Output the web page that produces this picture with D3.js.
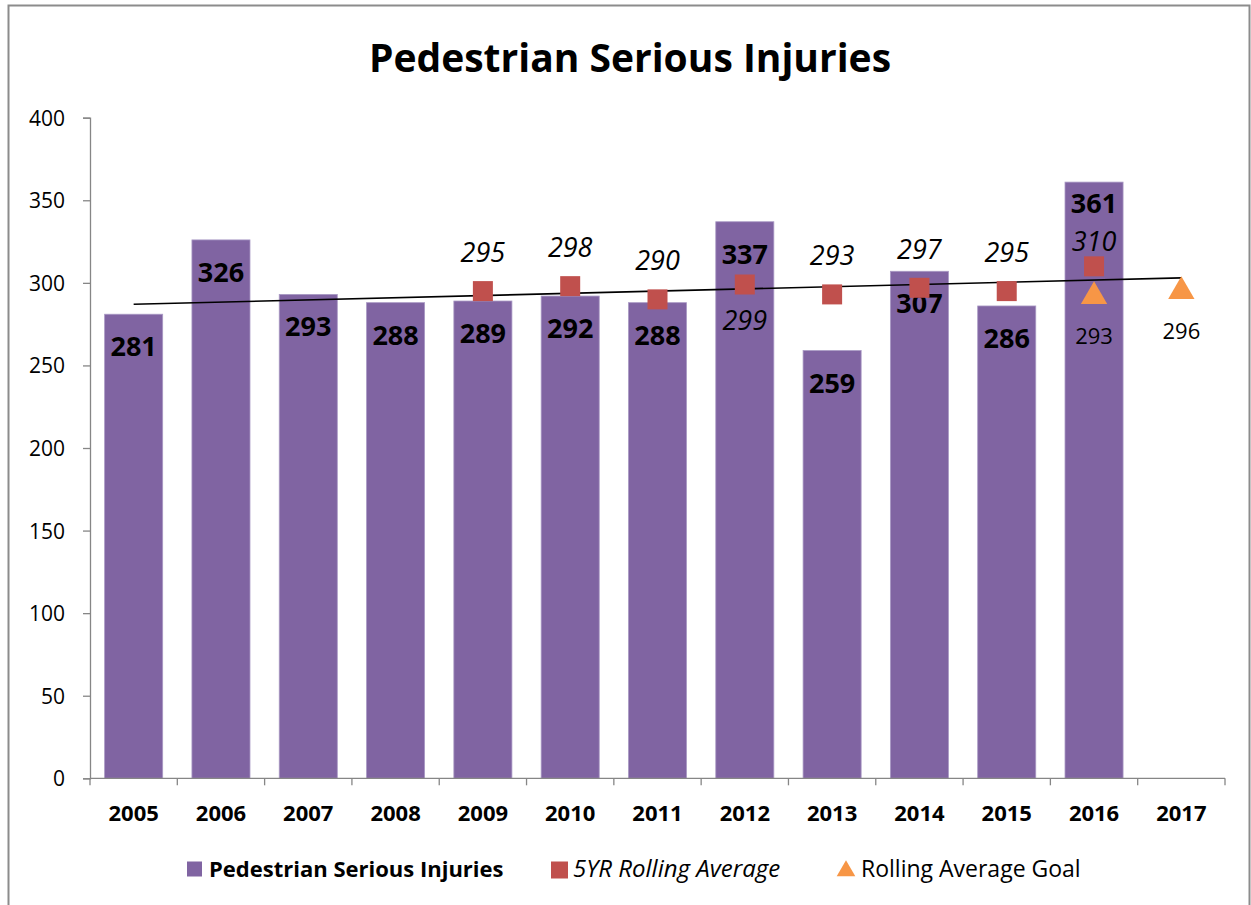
<!DOCTYPE html>
<html>
<head>
<meta charset="utf-8">
<script src="https://cdn.jsdelivr.net/npm/d3@7"></script>
<style>
  html, body { margin: 0; padding: 0; background: #fff; }
  svg { display: block; font-family: "Open Sans", sans-serif; }
</style>
</head>
<body>
<svg id="chart" width="1251" height="905"></svg>
<script>
// ---- data ----
const years = ["2005","2006","2007","2008","2009","2010","2011","2012","2013","2014","2015","2016","2017"];
const injuryYears = ["2005","2006","2007","2008","2009","2010","2011","2012","2013","2014","2015","2016"];
const injuries = [281, 326, 293, 288, 289, 292, 288, 337, 259, 307, 286, 361];
const rollingYears = ["2009","2010","2011","2012","2013","2014","2015","2016"];
const rollingAvg = [295, 298, 290, 299, 293, 297, 295, 310];
const goalYears = ["2016","2017"];
const goalValues = [293, 296];
const trendYears = ["2005","2017"];
const trendValues = [287, 303];
const yTicks = [0, 50, 100, 150, 200, 250, 300, 350, 400];
const title = "Pedestrian Serious Injuries";
const seriesNames = ["Pedestrian Serious Injuries", "5YR Rolling Average", "Rolling Average Goal"];

// ---- styling ----
const barColor = "#8064A2", avgColor = "#C0504D", goalColor = "#F79646", axisColor = "#868686";

const svg = d3.select("#chart");

// outer border
svg.append("rect").attr("x", 8.5).attr("y", 5.5).attr("width", 1241).attr("height", 940)
  .attr("fill", "none").attr("stroke", "#8c8c8c").attr("stroke-width", 2);

const x = d3.scaleBand().domain(years).range([90, 1225]).padding(0);
const y = d3.scaleLinear().domain([0, 400]).range([778.3, 117.7]);
const cx = d => x(d) + x.bandwidth() / 2;
const barW = x.bandwidth() * 0.665;

// title
svg.append("text").attr("x", 630).attr("y", 72).attr("text-anchor", "middle")
  .attr("font-size", 39).attr("font-weight", 700).attr("fill", "#000").text(title);

// bars
const bars = injuryYears.map((yr, i) => ({ yr, v: injuries[i] }));
svg.append("g").selectAll("rect").data(bars).join("rect")
  .attr("x", d => cx(d.yr) - barW / 2).attr("width", barW)
  .attr("y", d => y(d.v)).attr("height", d => y(0) - y(d.v))
  .attr("fill", barColor).attr("stroke", "#a999c4").attr("stroke-width", 0.8);

// y axis
const yAxis = d3.axisLeft(y).tickValues(yTicks).tickSize(7).tickPadding(18);
const gy = svg.append("g").attr("transform", "translate(90,0)").call(yAxis);
gy.select(".domain").attr("stroke", axisColor).attr("stroke-width", 1.3);
gy.selectAll(".tick line").attr("stroke", axisColor).attr("stroke-width", 1.3);
gy.selectAll(".tick text").attr("font-size", 21).attr("fill", "#000")
  .attr("font-family", "Open Sans, sans-serif").attr("dy", "0.36em");

// x axis
const gx = svg.append("g").attr("transform", `translate(0,${y(0)})`)
  .call(d3.axisBottom(x).tickSize(0).tickPadding(0));
gx.select(".domain").attr("stroke", axisColor).attr("stroke-width", 1.3).attr("d", `M90,0H1225`);
gx.selectAll(".tick text").attr("font-size", 22).attr("font-weight", 700).attr("fill", "#000")
  .attr("font-family", "Open Sans, sans-serif").attr("y", 43).attr("dy", 0);
// boundary tick marks
const bounds = years.map(yr => x(yr)).concat([x(years[years.length - 1]) + x.bandwidth()]);
gx.append("g").selectAll("line").data(bounds).join("line")
  .attr("x1", d => d).attr("x2", d => d).attr("y1", 0).attr("y2", 7)
  .attr("stroke", axisColor).attr("stroke-width", 1.3);

// bar labels
svg.append("g").selectAll("text").data(bars).join("text")
  .attr("x", d => cx(d.yr)).attr("y", d => y(d.v) + (d.yr === "2016" ? 31 : 42))
  .attr("text-anchor", "middle").attr("font-size", 27).attr("font-weight", 700)
  .attr("fill", "#000").text(d => d.v);

// trendline
const trend = trendYears.map((yr, i) => ({ yr, v: trendValues[i] }));
svg.append("path").datum(trend)
  .attr("d", d3.line().x(d => cx(d.yr)).y(d => y(d.v)))
  .attr("stroke", "#000").attr("stroke-width", 1.6).attr("fill", "none");

// rolling average markers
const avg = rollingYears.map((yr, i) => ({ yr, v: rollingAvg[i] }));
svg.append("g").selectAll("rect").data(avg).join("rect")
  .attr("x", d => cx(d.yr) - 10).attr("y", d => y(d.v) - 10)
  .attr("width", 20).attr("height", 20).attr("fill", avgColor);
svg.append("g").selectAll("text").data(avg).join("text")
  .attr("x", d => cx(d.yr))
  .attr("y", d => d.yr === "2012" ? y(d.v) + 45 : (d.yr === "2016" ? y(d.v) - 15 : y(d.v) - 29))
  .attr("text-anchor", "middle").attr("font-size", 27).attr("font-style", "italic")
  .attr("fill", "#000").text(d => d.v);

// goal markers
const goals = goalYears.map((yr, i) => ({ yr, v: goalValues[i] }));
const tri = d3.symbol().type(d3.symbolTriangle).size(300);
svg.append("g").selectAll("path").data(goals).join("path")
  .attr("d", tri).attr("transform", d => `translate(${cx(d.yr)},${y(d.v) + 2})`)
  .attr("fill", goalColor);
svg.append("g").selectAll("text").data(goals).join("text")
  .attr("x", d => cx(d.yr)).attr("y", d => y(d.v) + 50)
  .attr("text-anchor", "middle").attr("font-size", 22).attr("fill", "#000").text(d => d.v);

// legend
const lg = svg.append("g");
lg.append("rect").attr("x", 187).attr("y", 861.5).attr("width", 15).attr("height", 15).attr("fill", barColor);
lg.append("text").attr("x", 209).attr("y", 877).attr("font-size", 22).attr("font-weight", 700).text(seriesNames[0]);
lg.append("rect").attr("x", 551).attr("y", 861.5).attr("width", 17).attr("height", 17).attr("fill", avgColor);
lg.append("text").attr("x", 573).attr("y", 877).attr("font-size", 24).attr("font-style", "italic").text(seriesNames[1]);
lg.append("path").attr("d", d3.symbol().type(d3.symbolTriangle).size(150))
  .attr("transform", "translate(846,871)").attr("fill", goalColor);
lg.append("text").attr("x", 861).attr("y", 877).attr("font-size", 23).text(seriesNames[2]);
</script>
</body>
</html>
